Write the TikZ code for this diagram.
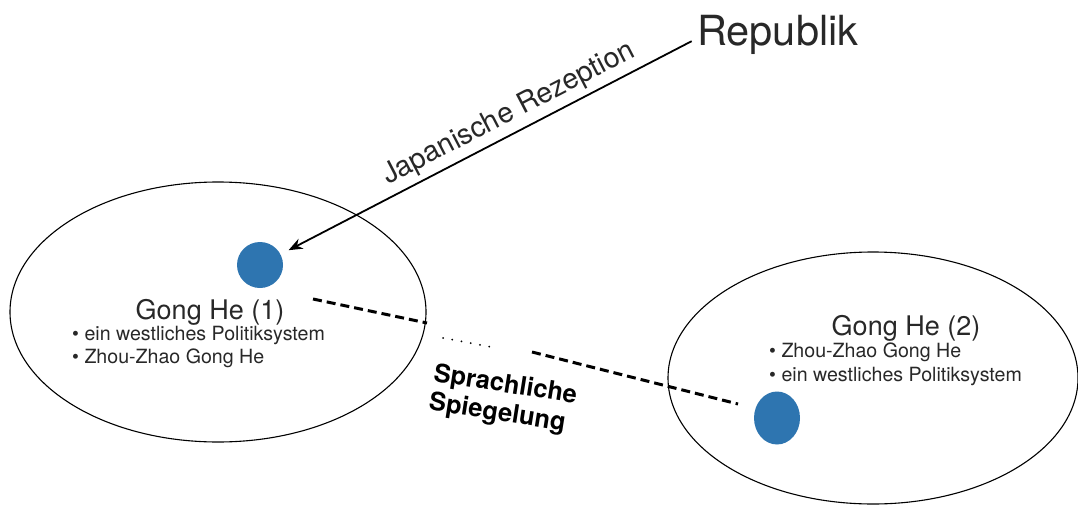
\documentclass[tikz,border=0pt]{standalone}
\usepackage{fontspec}
\setmainfont{TeX Gyre Heros}
\usetikzlibrary{shapes.geometric,arrows.meta}
\definecolor{dotblue}{RGB}{46,117,176}
\definecolor{txt}{RGB}{40,40,40}
\begin{document}
\begin{tikzpicture}[x=1pt,y=-1pt,
  world/.style={ellipse,draw=black,line width=1.1pt,inner sep=0pt},
  spot/.style={fill=dotblue,inner sep=0pt},
  title/.style={text=txt,font=\fontsize{27}{32}\selectfont,inner sep=0pt},
  items/.style={text=txt,font=\fontsize{19.6}{23.5}\selectfont,align=left,inner sep=0pt},
  mirror/.style={line width=3pt,dash pattern=on 9pt off 5pt},
  pointer/.style={line width=1.8pt,-{Stealth[length=14pt,width=11pt]}}]
\useasboundingbox (0,0) rectangle (1078,506);

% the two semantic fields
\node[world,minimum width=416pt,minimum height=260pt] (e1) at (218,312) {};
\node[world,minimum width=410pt,minimum height=252pt] (e2) at (873,378) {};

% anchor points of the two meanings
\node[spot,circle,minimum size=46pt] (d1) at (260,265) {};
\node[spot,ellipse,minimum width=46pt,minimum height=53pt] (d2) at (777,418) {};

% source term
\node[anchor=base west,text=txt,inner sep=0pt,font=\fontsize{41.5}{48}\selectfont] (rep) at (697,45) {Republik};

\draw[pointer,shorten >=9pt,shorten <=6pt] ([yshift=-4pt]rep.west) -- (d1)
  node[pos=0.43,sloped,above,text=txt,inner sep=5pt,font=\fontsize{28.5}{33}\selectfont] (jr) {Japanische Rezeption};

% labels inside the fields
\node[title] (g1) at (210,312) {Gong He (1)};
\node[items,anchor=north west] (l1) at (72,326) {\textbullet\ ein westliches Politiksystem\\\textbullet\ Zhou-Zhao Gong He};

\node[title] (g2) at (906,328) {Gong He (2)};
\node[items,anchor=north west] (l2) at (769,343) {\textbullet\ Zhou-Zhao Gong He\\\textbullet\ ein westliches Politiksystem};

% linguistic mirroring
\coordinate (m1) at (313,299);
\coordinate (m2) at (427,323);
\coordinate (m3) at (443,338);
\coordinate (m4) at (491,347);
\coordinate (m5) at (532,352);
\coordinate (m6) at (738,404);
\draw[mirror] (m1) -- (m2);
\draw[line width=2pt,line cap=round,dash pattern=on 0pt off 9.4pt] (m3) -- (m4);
\draw[mirror] (m5) -- (m6);

\node[rotate=-9,align=left,inner sep=0pt,font=\bfseries\fontsize{25.5}{29}\selectfont] (sp) at (503,400) {Sprachliche\\Spiegelung};
\end{tikzpicture}
\end{document}
